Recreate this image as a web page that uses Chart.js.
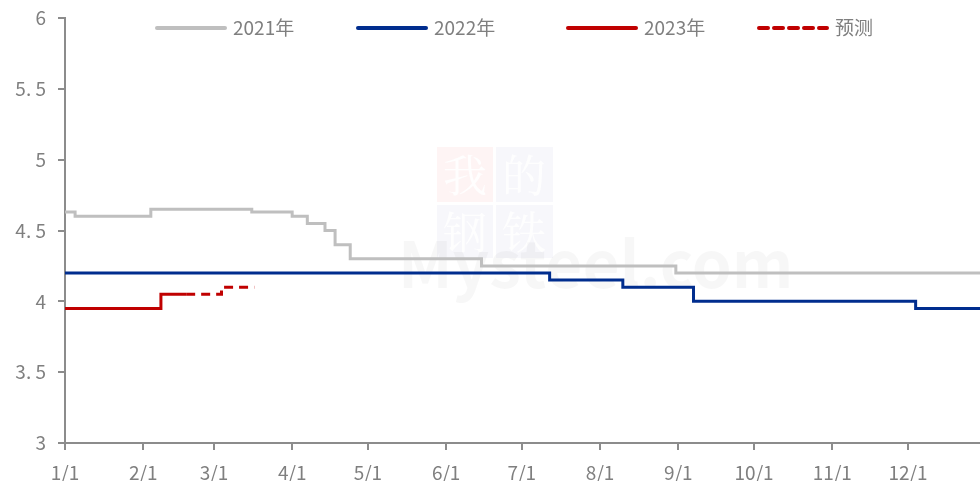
<!DOCTYPE html>
<html>
<head>
<meta charset="utf-8">
<script src="https://cdn.jsdelivr.net/npm/chart.js@4.4.0/dist/chart.umd.min.js"></script>
<style>
  html, body { margin: 0; padding: 0; background: #fff; }
  #wrap { width: 980px; height: 481px; position: relative; }
</style>
</head>
<body>
<div id="wrap"><canvas id="chart"></canvas></div>
<script>
// x positions are day-of-year (1/1 = 0)
const tickDays = [0, 31, 59, 90, 120, 151, 181, 212, 243, 273, 304, 334];
const tickLabels = ['1/1', '2/1', '3/1', '4/1', '5/1', '6/1', '7/1', '8/1', '9/1', '10/1', '11/1', '12/1'];
const yTicks = [3, 3.5, 4, 4.5, 5, 5.5, 6];

const days2021 = [0, 4, 34, 74, 90, 96, 103, 107, 113, 165, 242, 362.5];
const rate2021 = [4.63, 4.60, 4.65, 4.63, 4.60, 4.55, 4.50, 4.40, 4.30, 4.25, 4.20, 4.20];

const days2022 = [0, 192, 221, 249, 337, 362.5];
const rate2022 = [4.20, 4.15, 4.10, 4.00, 3.95, 3.95];

const days2023 = [0, 38, 48];
const rate2023 = [3.95, 4.05, 4.05];

const daysForecast = [48, 62, 75];
const rateForecast = [4.05, 4.10, 4.10];

const seriesNames = ['2021年', '2022年', '2023年', '预测'];

const FONT = '"Noto Sans CJK SC", "Noto Sans", sans-serif';
const GREY_TEXT = '#7f7f7f';
const AXIS = '#8c8c8c';

function pts(xs, ys) {
    return xs.map((x, i) => ({ x: x, y: ys[i] }));
}

const watermark = {
    id: 'watermark',
    beforeDatasetsDraw(chart) {
        const ctx = chart.ctx;
        ctx.save();
        ctx.fillStyle = 'rgba(230,60,60,0.06)';
        ctx.fillRect(437, 147, 56, 55);
        ctx.fillStyle = 'rgba(40,60,160,0.04)';
        ctx.fillRect(496, 147, 57, 55);
        ctx.fillRect(437, 205, 56, 53);
        ctx.fillRect(496, 205, 57, 53);
        ctx.fillStyle = 'rgba(255,255,255,0.9)';
        ctx.font = '44px "Noto Serif CJK SC", ' + FONT;
        ctx.textAlign = 'center';
        ctx.textBaseline = 'middle';
        ctx.fillText('我', 465, 175);
        ctx.fillText('的', 524, 175);
        ctx.fillText('钢', 465, 232);
        ctx.fillText('铁', 524, 232);
        ctx.fillStyle = 'rgba(0,0,0,0.03)';
        ctx.font = 'bold 64px ' + FONT;
        ctx.textAlign = 'left';
        ctx.textBaseline = 'alphabetic';
        ctx.fillText('Mysteel.com', 398, 288);
        ctx.restore();
    }
};

const topLegend = {
    id: 'topLegend',
    afterDraw(chart) {
        const ctx = chart.ctx;
        const starts = [157, 358, 568, 759];
        const y = 28;
        ctx.save();
        ctx.font = '19px ' + FONT;
        ctx.textBaseline = 'middle';
        ctx.textAlign = 'left';
        chart.data.datasets.forEach((ds, i) => {
            const x = starts[i];
            ctx.beginPath();
            ctx.strokeStyle = ds.borderColor;
            ctx.lineWidth = 4;
            ctx.lineCap = 'round';
            ctx.setLineDash(ds.borderDash || []);
            ctx.moveTo(x, y);
            ctx.lineTo(x + 68, y);
            ctx.stroke();
            ctx.setLineDash([]);
            ctx.fillStyle = GREY_TEXT;
            ctx.fillText(ds.label, x + 76, y);
        });
        ctx.restore();
    }
};

new Chart(document.getElementById('chart'), {
    type: 'line',
    data: {
        datasets: [
            {
                label: seriesNames[0],
                data: pts(days2021, rate2021),
                borderColor: '#bfbfbf',
                borderWidth: 3,
                stepped: 'before'
            },
            {
                label: seriesNames[1],
                data: pts(days2022, rate2022),
                borderColor: '#002d8e',
                borderWidth: 3,
                stepped: 'before'
            },
            {
                label: seriesNames[2],
                data: pts(days2023, rate2023),
                borderColor: '#c00000',
                borderWidth: 3,
                stepped: 'before'
            },
            {
                label: seriesNames[3],
                data: pts(daysForecast, rateForecast),
                borderColor: '#c00000',
                borderWidth: 3,
                borderDash: [9, 6],
                stepped: 'before'
            }
        ]
    },
    options: {
        responsive: true,
        maintainAspectRatio: false,
        animation: false,
        layout: { padding: { top: 18, right: 0, left: 0, bottom: 0 } },
        elements: { point: { radius: 0 } },
        plugins: {
            legend: { display: false },
            tooltip: { enabled: false }
        },
        scales: {
            x: {
                type: 'linear',
                min: 0,
                max: 362.5,
                afterBuildTicks: scale => {
                    scale.ticks = tickDays.map(v => ({ value: v }));
                },
                afterFit: scale => {
                    scale.height = 38;
                    scale.paddingLeft = 0;
                    scale.paddingRight = 0;
                },
                ticks: {
                    autoSkip: false,
                    maxRotation: 0,
                    padding: 11,
                    color: GREY_TEXT,
                    font: { family: FONT, size: 19 },
                    callback: (value) => tickLabels[tickDays.indexOf(value)]
                },
                grid: {
                    display: true,
                    drawOnChartArea: false,
                    drawTicks: true,
                    tickLength: 7,
                    color: AXIS,
                    lineWidth: 2
                },
                border: { display: true, color: AXIS, width: 2 }
            },
            y: {
                min: 3,
                max: 6,
                afterBuildTicks: scale => {
                    scale.ticks = yTicks.map(v => ({ value: v }));
                },
                afterFit: scale => {
                    scale.width = 65;
                    scale.paddingTop = 0;
                    scale.paddingBottom = 0;
                },
                ticks: {
                    padding: 12,
                    color: GREY_TEXT,
                    font: { family: FONT, size: 19 },
                    callback: v => String(v).replace('.', '. ')
                },
                grid: {
                    display: true,
                    drawOnChartArea: false,
                    drawTicks: true,
                    tickLength: 7,
                    color: AXIS,
                    lineWidth: 2
                },
                border: { display: true, color: AXIS, width: 2 }
            }
        }
    },
    plugins: [watermark, topLegend]
});
</script>
</body>
</html>
